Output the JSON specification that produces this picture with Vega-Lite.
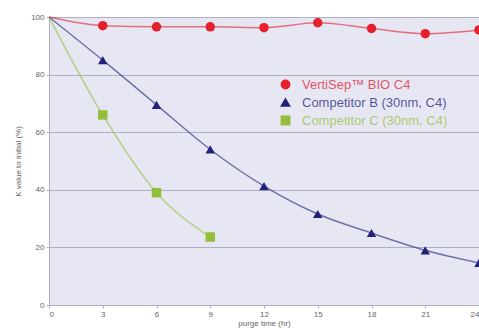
{
  "$schema": "https://vega.github.io/schema/vega-lite/v6.json",
  "autosize": "none",
  "width": 430,
  "height": 288,
  "padding": {"left": 49, "top": 17, "right": 0, "bottom": 26},
  "background": "#ffffff",
  "config": {
    "view": {"fill": "#e7e7f4", "stroke": "#c8c8d6"},
    "font": "Liberation Sans",
    "axis": {"labelColor": "#666666", "titleColor": "#666666", "labelFontSize": 8, "titleFontSize": 8, "titleFontWeight": "normal", "domainColor": "#b0b0c0", "tickColor": "#b0b0c0"}
  },
  "data": {
    "values": [
      {"series": "VertiSep™ BIO C4", "t": 0, "v": 100},
      {"series": "VertiSep™ BIO C4", "t": 3, "v": 97},
      {"series": "VertiSep™ BIO C4", "t": 6, "v": 96.6},
      {"series": "VertiSep™ BIO C4", "t": 9, "v": 96.6},
      {"series": "VertiSep™ BIO C4", "t": 12, "v": 96.3},
      {"series": "VertiSep™ BIO C4", "t": 15, "v": 98},
      {"series": "VertiSep™ BIO C4", "t": 18, "v": 96},
      {"series": "VertiSep™ BIO C4", "t": 21, "v": 94.2},
      {"series": "VertiSep™ BIO C4", "t": 24, "v": 95.5},
      {"series": "Competitor B (30nm, C4)", "t": 0, "v": 100},
      {"series": "Competitor B (30nm, C4)", "t": 3, "v": 85},
      {"series": "Competitor B (30nm, C4)", "t": 6, "v": 69.5},
      {"series": "Competitor B (30nm, C4)", "t": 9, "v": 54},
      {"series": "Competitor B (30nm, C4)", "t": 12, "v": 41.3},
      {"series": "Competitor B (30nm, C4)", "t": 15, "v": 31.6},
      {"series": "Competitor B (30nm, C4)", "t": 18, "v": 25},
      {"series": "Competitor B (30nm, C4)", "t": 21, "v": 19},
      {"series": "Competitor B (30nm, C4)", "t": 24, "v": 14.6},
      {"series": "Competitor C (30nm, C4)", "t": 0, "v": 100},
      {"series": "Competitor C (30nm, C4)", "t": 3, "v": 66},
      {"series": "Competitor C (30nm, C4)", "t": 6, "v": 39},
      {"series": "Competitor C (30nm, C4)", "t": 9, "v": 23.6}
    ]
  },
  "encoding": {
    "x": {"field": "t", "type": "quantitative", "scale": {"domain": [0, 24], "nice": false},
      "axis": {"values": [0, 3, 6, 9, 12, 15, 18, 21, 24], "title": "purge time (hr)", "grid": false, "tickSize": 3, "labelPadding": 2, "titlePadding": 1}},
    "y": {"field": "v", "type": "quantitative", "scale": {"domain": [0, 100], "nice": false},
      "axis": {"values": [0, 20, 40, 60, 80, 100], "title": "K value to initial (%)", "gridColor": "#aeb0c4", "gridWidth": 1, "tickSize": 3, "titlePadding": 8}},
    "color": {"field": "series", "type": "nominal",
      "scale": {"domain": ["VertiSep™ BIO C4", "Competitor B (30nm, C4)", "Competitor C (30nm, C4)"], "range": ["#e3202c", "#22227a", "#94bf3a"]},
      "legend": {"title": null, "orient": "none", "legendX": 226, "legendY": 57, "labelFontSize": 13, "symbolSize": 70, "symbolOpacity": 1,
        "padding": 4, "rowPadding": 3, "labelOffset": 10,
        "encode": {"labels": {"enter": {"fill": {"signal": "scale('color', datum.value)"}, "fillOpacity": {"value": 0.75}}, "update": {"fill": {"signal": "scale('color', datum.value)"}, "fillOpacity": {"value": 0.75}}}}}}
  },
  "layer": [
    {
      "mark": {"type": "line", "interpolate": "monotone", "strokeWidth": 1.5, "opacity": 0.6}
    },
    {
      "transform": [{"filter": "datum.t > 0"}],
      "mark": {"type": "point", "filled": true, "opacity": 1, "size": 90},
      "encoding": {
        "shape": {"field": "series", "type": "nominal",
          "scale": {"domain": ["VertiSep™ BIO C4", "Competitor B (30nm, C4)", "Competitor C (30nm, C4)"], "range": ["circle", "triangle-up", "square"]},
          "legend": {"title": null, "orient": "none", "legendX": 226, "legendY": 57, "labelFontSize": 13, "symbolSize": 70, "symbolOpacity": 1,
            "padding": 4, "rowPadding": 3, "labelOffset": 10,
            "encode": {"labels": {"enter": {"fill": {"signal": "scale('color', datum.value)"}, "fillOpacity": {"value": 0.75}}, "update": {"fill": {"signal": "scale('color', datum.value)"}, "fillOpacity": {"value": 0.75}}}}}}
      }
    }
  ]
}
